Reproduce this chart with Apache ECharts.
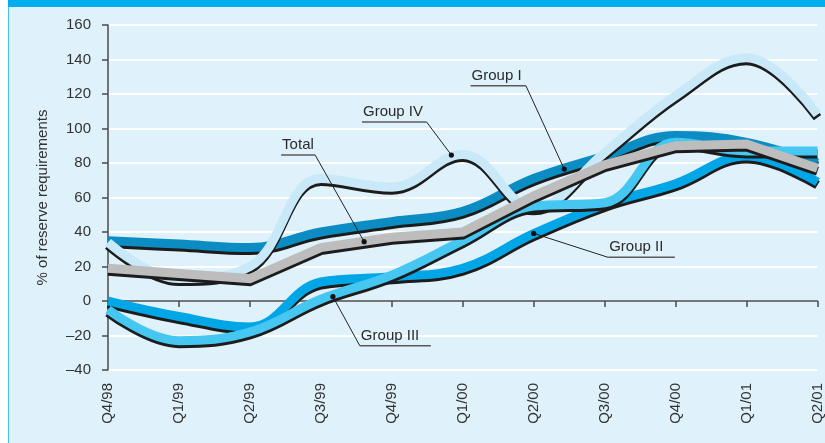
<!DOCTYPE html>
<html>
<head>
<meta charset="utf-8">
<script src="https://cdn.jsdelivr.net/npm/echarts@6/dist/echarts.min.js"></script>
<style>
  html, body { margin: 0; padding: 0; background: #ffffff; }
  #wrap { position: relative; width: 825px; height: 443px; overflow: hidden; }
  #panel { position: absolute; left: 8px; top: 0; width: 817px; height: 443px; background: #dff1fa; border-left: 1px solid #45c3ef; box-sizing: border-box; }
  #bar { position: absolute; left: 8px; top: 0; width: 817px; height: 7px; background: #00aeef; }
  #main { position: absolute; left: 0; top: 0; width: 825px; height: 443px; }
</style>
</head>
<body>
<div id="wrap">
  <div id="panel"></div>
  <div id="bar"></div>
  <div id="main"></div>
</div>
<script>
// quarters on the x axis
var quarters = ['Q4/98', 'Q1/99', 'Q2/99', 'Q3/99', 'Q4/99', 'Q1/00', 'Q2/00', 'Q3/00', 'Q4/00', 'Q1/01', 'Q2/01'];

// % of reserve requirements
var groupI   = [35, 33, 31, 40, 46, 52, 71, 84, 96, 92, 80];
var groupII  = [0, -9, -15, 11, 14, 19, 39, 56, 68, 84, 69];
var groupIII = [-5, -23, -18, 1, 15, 35, 55, 57, 92, 87, 87];
var groupIV  = [34, 13, 20, 71, 66, 85, 54, 86, 119, 141, 108];
var total    = [19, 16, 13, 31, 37, 40, 61, 79, 90, 91, 77];

var yTicks = { min: -40, max: 160, step: 20 };

// callouts: dot on the line, elbow of the leader, underline from..to (x in quarter units)
var labelText  = ['Group IV', 'Total', 'Group I', 'Group II', 'Group III'];
var labelDot   = [[4.84, 84.6], [3.61, 34.4], [6.43, 76.5], [6.0, 39.2], [3.17, 2.5]];
var labelElbow = [[4.49, 103.8], [2.92, 84.6], [5.89, 124.8], [7.05, 25.3], [3.55, -26]];
var labelLine  = [[3.58, 4.49], [2.44, 2.92], [5.11, 5.89], [7.05, 7.99], [3.55, 4.55]];

var font = "'Liberation Sans', Arial, sans-serif";

function bandSeries(name, data, color, smooth) {
	return {
		name: name,
		type: 'line',
		data: data,
		smooth: smooth,
		showSymbol: false,
		clip: false,
		silent: true,
		lineStyle: {
			width: 9,
			color: color,
			cap: 'butt',
			join: 'miter',
			shadowColor: '#1c1c1c',
			shadowBlur: 0,
			shadowOffsetX: 0,
			shadowOffsetY: 3
		}
	};
}

var chart = echarts.init(document.getElementById('main'), null, { renderer: 'canvas' });

var option = {
	backgroundColor: 'transparent',
	animation: false,
	grid: { left: 108, right: 7, top: 25, bottom: 73, containLabel: false },
	xAxis: [{
		type: 'category',
		data: quarters,
		boundaryGap: false,
		position: 'bottom',
		axisLine: { show: false, onZero: false },
		axisTick: { show: false },
		splitLine: { show: false },
		axisLabel: {
			interval: 0,
			rotate: 90,
			margin: 13,
			fontSize: 15,
			fontFamily: font,
			color: '#333333'
		}
	}, {
		type: 'category',
		data: quarters,
		boundaryGap: false,
		position: 'bottom',
		axisLine: { show: true, onZero: true, lineStyle: { color: '#4a4a4a', width: 1.5 } },
		axisTick: { show: true, length: 6, interval: 0, lineStyle: { color: '#4a4a4a', width: 1.5 } },
		axisLabel: { show: false },
		splitLine: { show: false }
	}],
	yAxis: {
		type: 'value',
		min: yTicks.min,
		max: yTicks.max,
		interval: yTicks.step,
		name: '% of reserve requirements',
		nameLocation: 'middle',
		nameGap: 58,
		nameTextStyle: { fontSize: 15, fontFamily: font, color: '#333333' },
		axisLine: { show: true, lineStyle: { color: '#4a4a4a', width: 1.5 } },
		axisTick: { show: true, length: 6, lineStyle: { color: '#4a4a4a', width: 1.5 } },
		axisLabel: {
			margin: 17,
			fontSize: 15,
			fontFamily: font,
			color: '#333333',
			formatter: function (v) { return String(v).replace('-', '\u2013'); }
		},
		splitLine: { show: true, lineStyle: { color: '#ffffff', width: 2 } }
	},
	series: [
		bandSeries('Group I', groupI, '#0b8cc3', 0.4),
		bandSeries('Group II', groupII, '#00a6e6', 0.4),
		bandSeries('Group IV', groupIV, '#c9e9f8', 0.4),
		bandSeries('Group III', groupIII, '#45c7f2', 0.4),
		bandSeries('Total', total, '#bdbdbd', false)
	]
};
chart.setOption(option);

// pixel position of a point given in quarter units and %
function toPx(ix, v) {
	var a = chart.convertToPixel({ xAxisIndex: 0, yAxisIndex: 0 }, [0, v]);
	var b = chart.convertToPixel({ xAxisIndex: 0, yAxisIndex: 0 }, [1, v]);
	return [a[0] + (b[0] - a[0]) * ix, a[1]];
}

var elements = [];
for (var i = 0; i < labelText.length; i++) {
	var dot = toPx(labelDot[i][0], labelDot[i][1]);
	var elbow = toPx(labelElbow[i][0], labelElbow[i][1]);
	var u1 = toPx(labelLine[i][0], labelElbow[i][1]);
	var u2 = toPx(labelLine[i][1], labelElbow[i][1]);
	elements.push({
		type: 'polyline', z: 100, silent: true,
		shape: { points: [dot, elbow] },
		style: { stroke: '#222222', lineWidth: 1, fill: null }
	});
	elements.push({
		type: 'line', z: 100, silent: true,
		shape: { x1: u1[0], y1: u1[1], x2: u2[0], y2: u2[1] },
		style: { stroke: '#5a5a5a', lineWidth: 1.5 }
	});
	elements.push({
		type: 'circle', z: 101, silent: true,
		shape: { cx: dot[0], cy: dot[1], r: 2.6 },
		style: { fill: '#111111' }
	});
	elements.push({
		type: 'text', z: 101, silent: true,
		x: u1[0] + 1, y: u1[1] - 10,
		style: { text: labelText[i], fontSize: 15, fontFamily: font, fill: '#2a2a2a', verticalAlign: 'middle', align: 'left' }
	});
}
chart.setOption({ graphic: { elements: elements } });
</script>
</body>
</html>
